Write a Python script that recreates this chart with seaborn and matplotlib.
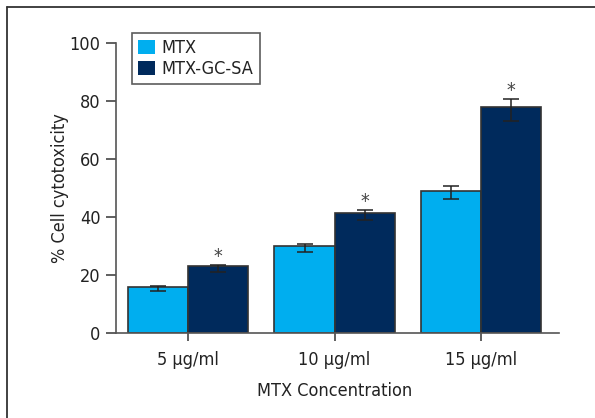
import matplotlib
matplotlib.use("Agg")
import matplotlib.pyplot as plt
from matplotlib.lines import Line2D
from matplotlib.patches import Patch
import numpy as np
import pandas as pd
import seaborn as sns

concentrations = ["5 µg/ml", "10 µg/ml", "15 µg/ml"]
groups = ["MTX", "MTX-GC-SA"]
mtx_values = [15.8, 30.1, 49.1]
mtx_err_low = [1.4, 2.0, 2.9]
mtx_err_high = [0.35, 0.7, 1.7]
conj_values = [23.2, 41.3, 77.8]
conj_err_low = [2.2, 2.3, 4.6]
conj_err_high = [0.25, 1.1, 2.8]
significant = [True, True, True]
colors = ["#00aeef", "#002a5c"]

df = pd.DataFrame({
    "conc": concentrations * 2,
    "group": [groups[0]] * 3 + [groups[1]] * 3,
    "value": mtx_values + conj_values,
})

sns.set_theme(style="white")
plt.rcParams["font.family"] = ["DejaVu Sans"]
plt.rcParams["font.stretch"] = "condensed"

fig = plt.figure(figsize=(5.95, 4.18), dpi=100)
ax = fig.add_axes([0.195, 0.2033, 0.7445, 0.6940])

sns.barplot(data=df, x="conc", y="value", hue="group", order=concentrations,
            hue_order=groups, palette=colors, saturation=1, errorbar=None,
            width=0.82, edgecolor="#333333", linewidth=1.2, legend=False, ax=ax)

# error bars and significance marks on each bar
bars = sorted(ax.patches, key=lambda p: p.get_x())
entries = []
for i in range(3):
    entries.append((mtx_values[i], mtx_err_low[i], mtx_err_high[i], False))
    entries.append((conj_values[i], conj_err_low[i], conj_err_high[i], significant[i]))
for p, (v, lo, hi, sig) in zip(bars, entries):
    cx = p.get_x() + p.get_width() / 2
    ax.errorbar(cx, v, yerr=[[lo], [hi]], fmt="none", ecolor="#222222",
                elinewidth=1.1, capsize=6, capthick=1.1, zorder=5)
    if sig:
        ax.text(cx, v + hi + 1.2, "*", ha="center", va="baseline", fontsize=14,
                color="#444444")

ax.set_ylim(0, 100)
ax.set_xlim(-0.49, 2.53)
ax.set_yticks([0, 20, 40, 60, 80, 100])
ax.tick_params(axis="both", which="both", direction="out", width=1.2,
               color="#444444", labelsize=13, labelcolor="#222222",
               bottom=True, left=True)
ax.tick_params(axis="y", length=7, pad=4)
ax.tick_params(axis="x", length=6, pad=7)
for s in ["top", "right"]:
    ax.spines[s].set_visible(False)
for s in ["left", "bottom"]:
    ax.spines[s].set_color("#555555")
    ax.spines[s].set_linewidth(1.2)

ax.set_xlabel("MTX Concentration", fontsize=13, color="#222222")
ax.set_ylabel("% Cell cytotoxicity", fontsize=13, color="#222222")
ax.xaxis.set_label_coords(0.493, -0.17)
ax.yaxis.set_label_coords(-0.106, 0.5)

handles = [Patch(facecolor=c, edgecolor="none") for c in colors]
leg = ax.legend(handles, groups, loc="upper left", bbox_to_anchor=(0.036, 1.034),
                frameon=True, fancybox=False, fontsize=13, handlelength=0.9,
                handleheight=0.85, handletextpad=0.4, borderpad=0.35,
                labelspacing=0.15, borderaxespad=0)
leg.get_frame().set_edgecolor("#333333")
leg.get_frame().set_linewidth(1.2)
for t in leg.get_texts():
    t.set_color("#222222")

# outer frame lines
fig.add_artist(Line2D([0.011, 1.0], [0.983, 0.983], color="#333333", lw=1.3,
                      transform=fig.transFigure))
fig.add_artist(Line2D([0.011, 0.011], [0.0, 0.983], color="#333333", lw=1.3,
                      transform=fig.transFigure))

fig.savefig("out.png", dpi=100)
